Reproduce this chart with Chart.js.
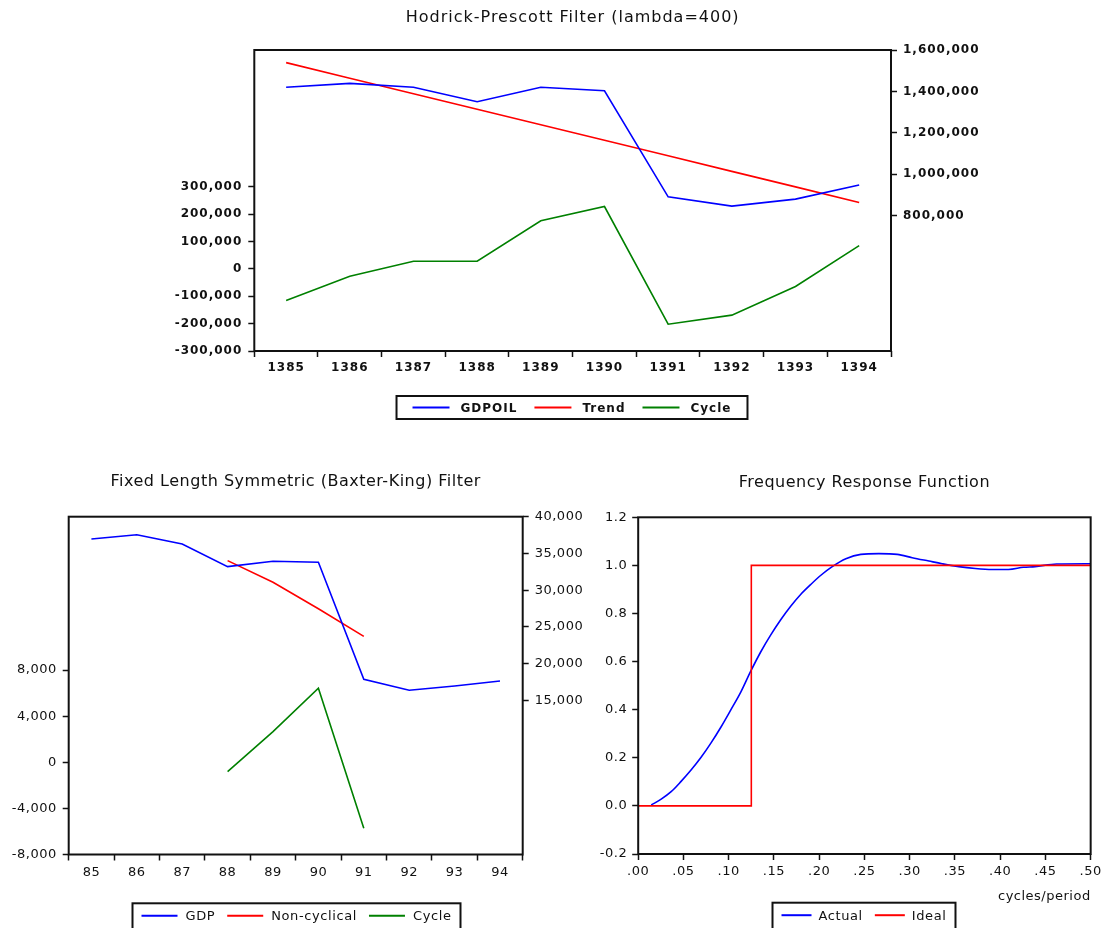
<!DOCTYPE html>
<html><head><meta charset="utf-8">
<script src="https://cdn.jsdelivr.net/npm/chart.js@4.4.1/dist/chart.umd.min.js"></script>
<style>
html,body{margin:0;padding:0;background:#fff;}
body{width:1105px;height:928px;position:relative;overflow:hidden;}
canvas{position:absolute;}
</style></head><body>
<canvas id="hp" width="850" height="440" style="left:147px;top:0px;width:850px;height:440px;"></canvas>
<canvas id="bk" width="592" height="468" style="left:0px;top:460px;width:592px;height:468px;"></canvas>
<canvas id="fr" width="513" height="468" style="left:592px;top:460px;width:513px;height:468px;"></canvas>
<script>
// ---------- data ----------
const hpYears = ['1385','1386','1387','1388','1389','1390','1391','1392','1393','1394'];
const hpGdpoil = [1420000, 1439000, 1420000, 1350000, 1420000, 1403000, 891000, 846000, 880000, 948000];
const hpTrend = [1539000, 1464000, 1389000, 1314000, 1239000, 1164000, 1089000, 1014000, 939000, 864000];
const hpCycle = [-115000, -27000, 28000, 28000, 176000, 228000, -202000, -169000, -64000, 85000];
const hpLeftTicks = [-300000, -200000, -100000, 0, 100000, 200000, 300000];
const hpRightTicks = [800000, 1000000, 1200000, 1400000, 1600000];

const bkYears = ['85','86','87','88','89','90','91','92','93','94'];
const bkGdp = [36970, 37550, 36290, 33200, 33930, 33790, 17850, 16360, 16940, 17620];
const bkNonCyc = [null, null, null, 34020, 31070, 27460, 23700, null, null, null];
const bkCycle = [null, null, null, -820, 2660, 6420, -5730, null, null, null];
const bkLeftTicks = [-8000, -4000, 0, 4000, 8000];
const bkRightTicks = [15000, 20000, 25000, 30000, 35000, 40000];

const frFreq = [0.0144, 0.0254, 0.0364, 0.0474, 0.0584, 0.0695, 0.0805, 0.0915, 0.1025, 0.1135, 0.1245, 0.1355, 0.1465, 0.1575, 0.1685, 0.1795, 0.1905, 0.2015, 0.2144, 0.2295, 0.246, 0.266, 0.2863, 0.3028, 0.3212, 0.3358, 0.3542, 0.3726, 0.391, 0.4092, 0.4257, 0.4386, 0.4624, 0.500];
const frActual = [0.004, 0.028, 0.059, 0.102, 0.149, 0.202, 0.262, 0.328, 0.400, 0.474, 0.561, 0.641, 0.711, 0.774, 0.830, 0.879, 0.920, 0.958, 0.995, 1.028, 1.046, 1.049, 1.046, 1.032, 1.018, 1.007, 0.995, 0.987, 0.983, 0.983, 0.992, 0.995, 1.006, 1.007];
const frIdealFreq = [0, 0.125, 0.125, 0.5];
const frIdeal = [0, 0, 1, 1];
const frXTicks = [0, 0.05, 0.10, 0.15, 0.20, 0.25, 0.30, 0.35, 0.40, 0.45, 0.50];
const frYTicks = [-0.2, 0.0, 0.2, 0.4, 0.6, 0.8, 1.0, 1.2];

// ---------- helpers ----------
const FAM = 'DejaVu Sans';
const TXT = '#111';
const BLUE = '#0000ff', RED = '#ff0000', GREEN = '#008000';
const fmtNum = v => Number(v).toLocaleString('en-US');

const spacingPlugin = {
  id: 'spacing',
  beforeDraw(chart, args, o) { chart.ctx.letterSpacing = (o.px || 0) + 'px'; }
};

const framePlugin = {
  id: 'frame',
  afterDatasetsDraw(chart) {
    const {ctx, chartArea: a} = chart;
    ctx.save();
    ctx.strokeStyle = '#111';
    ctx.lineWidth = 2;
    ctx.strokeRect(a.left, a.top, a.right - a.left, a.bottom - a.top);
    ctx.restore();
  }
};

const boxLegend = {
  id: 'boxLegend',
  afterDraw(chart, args, o) {
    const ctx = chart.ctx;
    ctx.save();
    ctx.font = o.font;
    ctx.letterSpacing = (o.ls || 0) + 'px';
    const items = chart.data.datasets.map(d => ({label: d.label, color: d.borderColor, w: ctx.measureText(d.label).width}));
    let content = 0;
    items.forEach((it, i) => { content += o.line + o.gap + it.w + (i ? o.itemGap : 0); });
    const bw = content + 2 * o.pad;
    const x0 = o.cx - bw / 2;
    ctx.strokeStyle = '#111';
    ctx.lineWidth = 2;
    ctx.strokeRect(x0, o.top, bw, o.h);
    let x = x0 + o.pad;
    const y = o.top + o.tm;
    ctx.textBaseline = 'middle';
    ctx.textAlign = 'left';
    items.forEach((it, i) => {
      if (i) x += o.itemGap;
      ctx.strokeStyle = it.color;
      ctx.lineWidth = 2;
      ctx.beginPath(); ctx.moveTo(x, y); ctx.lineTo(x + o.line, y); ctx.stroke();
      x += o.line + o.gap;
      ctx.fillStyle = TXT;
      ctx.fillText(it.label, x, y + 1);
      x += it.w;
    });
    ctx.restore();
  }
};

function yAxis(pos, min, max, ticksArr, fmt, width, font, pad) {
  return {
    type: 'linear', position: pos, min: min, max: max,
    afterBuildTicks: s => { s.ticks = ticksArr.map(v => ({value: v})); },
    afterFit: s => { s.width = width; },
    grid: {display: true, drawOnChartArea: false, drawTicks: true, tickLength: 6, tickColor: '#111', tickWidth: 1.5},
    border: {display: false},
    ticks: {callback: fmt, font: font, color: TXT, padding: pad, autoSkip: false}
  };
}
function catAxis(height, font, pad) {
  return {
    type: 'category', offset: true,
    afterFit: s => { s.height = height; },
    grid: {display: true, offset: true, drawOnChartArea: false, drawTicks: true, tickLength: 6, tickColor: '#111', tickWidth: 1.5},
    border: {display: false},
    ticks: {font: font, color: TXT, padding: pad, autoSkip: false, maxRotation: 0}
  };
}
function lineDs(label, data, color, axis, extra) {
  return Object.assign({label: label, data: data, borderColor: color, backgroundColor: color, borderWidth: 1.6,
    pointRadius: 0, pointHoverRadius: 0, tension: 0, fill: false, yAxisID: axis, spanGaps: false}, extra || {});
}

Chart.defaults.font.family = FAM;
Chart.defaults.color = TXT;

// ---------- Hodrick-Prescott ----------
const hpTickFont = {family: FAM, size: 12, weight: 'bold'};
new Chart(document.getElementById('hp'), {
  type: 'line',
  data: {
    labels: hpYears,
    datasets: [
      lineDs('GDPOIL', hpGdpoil, BLUE, 'y2'),
      lineDs('Trend', hpTrend, RED, 'y2'),
      lineDs('Cycle', hpCycle, GREEN, 'y')
    ]
  },
  options: {
    responsive: false, animation: false, events: [],
    layout: {padding: {top: 0, left: 0, right: 0, bottom: 59}},
    scales: {
      x: catAxis(30, hpTickFont, 4),
      y: yAxis('left', -300000, 800000, hpLeftTicks, fmtNum, 107.3, hpTickFont, 6),
      y2: yAxis('right', 146500, 1600000, hpRightTicks, fmtNum, 106, hpTickFont, 6)
    },
    plugins: {
      legend: {display: false},
      tooltip: {enabled: false},
      spacing: {px: 1},
      title: {display: true, fullSize: false, text: 'Hodrick-Prescott Filter (lambda=400)', color: TXT,
        font: {family: FAM, size: 16, weight: 'normal'}, padding: {top: 8.4, bottom: 22.4}},
      boxLegend: {font: 'bold 12px "DejaVu Sans"', ls: 1, cx: 425, top: 396, h: 23, tm: 11.5, line: 37, gap: 11, itemGap: 17, pad: 16}
    }
  },
  plugins: [spacingPlugin, framePlugin, boxLegend]
});

// ---------- Baxter-King ----------
const bkFont = {family: FAM, size: 13};
new Chart(document.getElementById('bk'), {
  type: 'line',
  data: {
    labels: bkYears,
    datasets: [
      lineDs('GDP', bkGdp, BLUE, 'y2'),
      lineDs('Non-cyclical', bkNonCyc, RED, 'y2'),
      lineDs('Cycle', bkCycle, GREEN, 'y')
    ]
  },
  options: {
    responsive: false, animation: false, events: [],
    layout: {padding: {top: 0, left: 0, right: 0, bottom: 43.5}},
    scales: {
      x: catAxis(30, bkFont, 4),
      y: yAxis('left', -8000, 21300, bkLeftTicks, fmtNum, 68.7, bkFont, 6),
      y2: yAxis('right', -6000, 40000, bkRightTicks, fmtNum, 69.3, bkFont, 6)
    },
    plugins: {
      legend: {display: false},
      tooltip: {enabled: false},
      spacing: {px: 0.5},
      title: {display: true, fullSize: false, text: 'Fixed Length Symmetric (Baxter-King) Filter', color: TXT,
        font: {family: FAM, size: 16, weight: 'normal'}, padding: {top: 12.1, bottom: 25.4}},
      boxLegend: {font: '13px "DejaVu Sans"', ls: 0.6, cx: 296.5, top: 443.3, h: 28, tm: 12.5, line: 36, gap: 8, itemGap: 12, pad: 9}
    }
  },
  plugins: [spacingPlugin, framePlugin, boxLegend]
});

// ---------- Frequency response ----------
const frFont = {family: FAM, size: 13};
new Chart(document.getElementById('fr'), {
  type: 'line',
  data: {
    datasets: [
      lineDs('Actual', frFreq.map((f, i) => ({x: f, y: frActual[i]})), BLUE, 'y', {cubicInterpolationMode: 'monotone', order: 1}),
      lineDs('Ideal', frIdealFreq.map((f, i) => ({x: f, y: frIdeal[i]})), RED, 'y', {order: 0})
    ]
  },
  options: {
    responsive: false, animation: false, events: [],
    layout: {padding: {top: 0, left: 0, right: 12.5, bottom: 23.5}},
    scales: {
      x: {
        type: 'linear', min: 0, max: 0.5,
        afterBuildTicks: s => { s.ticks = frXTicks.map(v => ({value: v})); },
        afterFit: s => { s.height = 50.5; },
        grid: {display: true, drawOnChartArea: false, drawTicks: true, tickLength: 6, tickColor: '#111', tickWidth: 1.5},
        border: {display: false},
        ticks: {font: frFont, color: TXT, padding: 4, autoSkip: false, maxRotation: 0,
          callback: v => Number(v).toFixed(2).replace(/^0/, '')},
        title: {display: true, text: 'cycles/period', align: 'end', color: TXT, font: {family: FAM, size: 13}, padding: {top: 0, bottom: 0}}
      },
      y: yAxis('left', -0.2, 1.2, frYTicks, v => Number(v).toFixed(1), 46.2, frFont, 5)
    },
    plugins: {
      legend: {display: false},
      tooltip: {enabled: false},
      spacing: {px: 0.5},
      title: {display: true, fullSize: false, text: 'Frequency Response Function', color: TXT,
        font: {family: FAM, size: 16, weight: 'normal'}, padding: {top: 13.1, bottom: 25}},
      boxLegend: {font: '13px "DejaVu Sans"', ls: 0.6, cx: 272, top: 442.7, h: 28, tm: 12.5, line: 30, gap: 7, itemGap: 12, pad: 9}
    }
  },
  plugins: [spacingPlugin, framePlugin, boxLegend]
});
</script>
</body></html>
